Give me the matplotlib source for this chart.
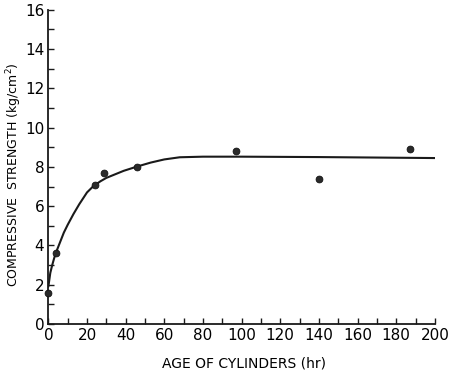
import matplotlib

matplotlib.use("Agg")

import matplotlib.pyplot as plt
from matplotlib.ticker import MultipleLocator

# measured points
age_hr = [0, 4, 24, 29, 46, 97, 140, 187]
strength = [1.6, 3.6, 7.1, 7.7, 8.0, 8.8, 7.4, 8.9]

# hand-drawn curve
curve_age = [0, 1, 2, 3, 4, 6, 8, 10, 13, 16, 20, 23.3, 27, 30, 35, 39,
             46, 53, 60, 68, 80, 100, 140, 200]
curve_strength = [1.9, 2.6, 3.0, 3.35, 3.65, 4.15, 4.65, 5.05, 5.6, 6.1,
                  6.7, 7.02, 7.27, 7.44, 7.64, 7.8, 8.02, 8.22, 8.38, 8.49,
                  8.52, 8.52, 8.5, 8.45]

plt.rcParams.update({"font.family": "DejaVu Sans"})

fig = plt.figure(figsize=(4.52, 3.78), dpi=100)
ax = fig.add_axes([0.107, 0.143, 0.855, 0.831])

ax.plot(curve_age, curve_strength, color="#1a1a1a", linewidth=1.5,
        solid_capstyle="round", solid_joinstyle="round", zorder=2)
ax.scatter(age_hr, strength, s=24, color="#2a2a2a", edgecolors="#111111",
           linewidths=0.6, zorder=3, clip_on=False)

ax.set_xlim(0, 200)
ax.set_ylim(0, 16)
ax.xaxis.set_major_locator(MultipleLocator(20))
ax.xaxis.set_minor_locator(MultipleLocator(10))
ax.yaxis.set_major_locator(MultipleLocator(2))
ax.yaxis.set_minor_locator(MultipleLocator(1))

for side in ("top", "right"):
    ax.spines[side].set_visible(False)
for side in ("left", "bottom"):
    ax.spines[side].set_linewidth(1.3)
    ax.spines[side].set_color("#1a1a1a")

ax.tick_params(which="both", direction="in", color="#1a1a1a", width=1.0,
               length=4.5, labelsize=11, pad=3)

ax.set_xlabel("AGE OF CYLINDERS (hr)", fontsize=10)
ax.set_ylabel("COMPRESSIVE  STRENGTH (kg/cm$^2$)", fontsize=9)
ax.xaxis.set_label_coords(0.506, -0.103)
ax.yaxis.set_label_coords(-0.063, 0.475)

fig.savefig("out.png", dpi=100, facecolor="white")
